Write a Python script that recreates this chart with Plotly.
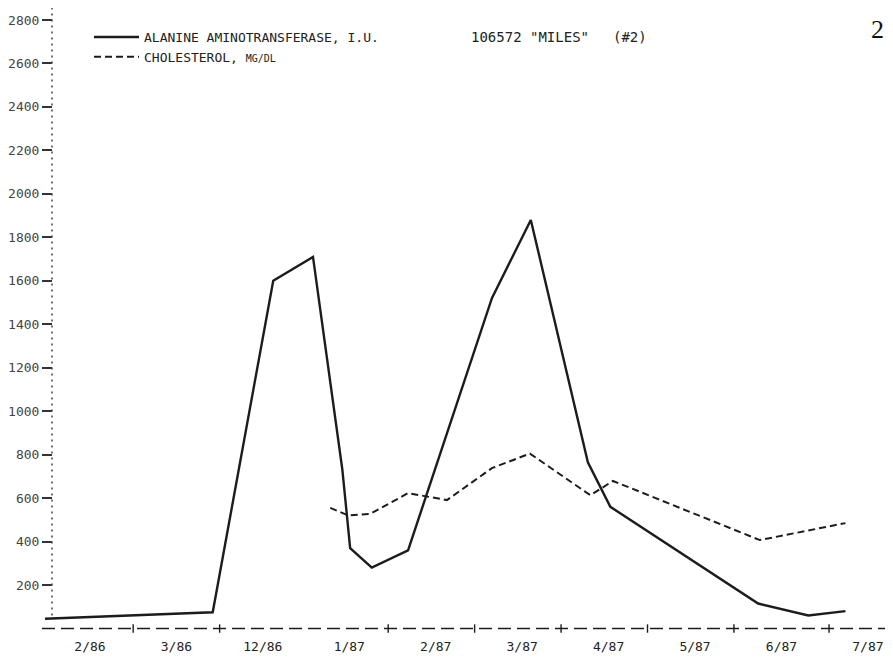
import plotly.graph_objects as go

# ---- data (x in month-slot units: 0 = "2/86" label, 1 = "3/86", ...) ----
month_labels = ["2/86", "3/86", "12/86", "1/87", "2/87", "3/87", "4/87", "5/87", "6/87", "7/87"]
month_pos = [0, 1, 2, 3, 4, 5, 6, 7, 8, 9]
slot_ticks = [0.5, 1.5, 3.45, 4.45, 5.45, 6.45, 7.45, 8.55]

alt_x = [-0.52, 1.42, 2.12, 2.58, 2.92, 3.01, 3.26, 3.68, 4.65, 5.10, 5.76, 6.02, 7.73, 8.31, 8.74]
alt_y = [45, 75, 1600, 1710, 730, 370, 280, 360, 1520, 1880, 765, 560, 115, 60, 80]

chol_x = [2.78, 2.99, 3.24, 3.68, 4.13, 4.65, 5.09, 5.79, 6.05, 7.75, 8.74]
chol_y = [555, 520, 527, 623, 591, 738, 805, 613, 679, 407, 485]

y_ticks = [200, 400, 600, 800, 1000, 1200, 1400, 1600, 1800, 2000, 2200, 2400, 2600, 2800]

alt_name = "ALANINE AMINOTRANSFERASE, I.U."
chol_name = "CHOLESTEROL, <span style='font-size:10px'>MG/DL</span>"
header_id = "106572"
header_name = "\"MILES\""
header_no = "(#2)"
page_no = "2"

INK = "#1c1c1c"
MONO = "DejaVu Sans Mono"

fig = go.Figure()
fig.add_trace(go.Scatter(x=alt_x, y=alt_y, mode="lines", name=alt_name,
                         line=dict(color=INK, width=2.4)))
fig.add_trace(go.Scatter(x=chol_x, y=chol_y, mode="lines", name=chol_name,
                         line=dict(color=INK, width=2.0, dash="7px,4px")))
# tick marks on the dashed baseline
fig.add_trace(go.Scatter(x=slot_ticks, y=[0] * len(slot_ticks), mode="markers",
                         showlegend=False, hoverinfo="skip",
                         marker=dict(symbol="line-ns", size=6,
                                     line=dict(color=INK, width=1.4))))

# the page body adds an 8px offset; the figure is sized to fit the window
OFF = 8
W, H = 893 - OFF, 662 - OFF
L, R, T, B = 42 - OFF, 0, 0, 25
PW, PH = W - L - R, H - T - B
axis_px = 52 - OFF


def px_x(x):  # reference-pixel x -> paper fraction
    return (x - OFF - L) / PW


def px_y(y):  # reference-pixel y -> paper fraction
    return 1 - (y - OFF - T) / PH


fig.update_layout(
    width=W, height=H,
    margin=dict(l=L, r=R, t=T, b=B, autoexpand=False),
    paper_bgcolor="white", plot_bgcolor="white",
    font=dict(family=MONO, color="#222", size=13),
    showlegend=True,
    legend=dict(xref="paper", yref="paper", x=px_x(89), y=px_y(22),
                xanchor="left", yanchor="top", bgcolor="rgba(0,0,0,0)",
                itemwidth=45, font=dict(family=MONO, size=13, color="#222"),
                tracegroupgap=0),
    xaxis=dict(range=[-0.555, 9.29], tickmode="array", tickvals=month_pos,
               ticktext=month_labels, ticks="", showgrid=False, zeroline=False,
               showline=False, automargin=False,
               tickfont=dict(family=MONO, size=13, color="#222")),
    yaxis=dict(range=[-39, 2855], tickmode="array", tickvals=y_ticks,
               ticks="outside", ticklen=10, tickwidth=1.6, tickcolor="#333",
               showgrid=False, zeroline=False, showline=False, automargin=False,
               anchor="free", position=(axis_px - L) / PW,
               tickfont=dict(family=MONO, size=13, color="#444")),
)

# dotted vertical axis line and dashed baseline
fig.add_shape(type="line", xref="paper", yref="y",
              x0=(axis_px - L) / PW, x1=(axis_px - L) / PW,
              y0=60, y1=2855, line=dict(color="#444", width=1.5, dash="2px,4px"))
fig.add_shape(type="line", xref="paper", yref="y", x0=0, x1=1, y0=0, y1=0,
              line=dict(color=INK, width=1.5, dash="13px,6px"))

# header texts
hy = px_y(37)
fig.add_annotation(xref="paper", yref="paper", x=px_x(469), y=hy,
                   text=header_id, showarrow=False, xanchor="left", yanchor="middle",
                   font=dict(family=MONO, size=14, color="#222"))
fig.add_annotation(xref="paper", yref="paper", x=px_x(528), y=hy,
                   text=header_name, showarrow=False, xanchor="left", yanchor="middle",
                   font=dict(family=MONO, size=14, color="#222"))
fig.add_annotation(xref="paper", yref="paper", x=px_x(611), y=hy,
                   text=header_no, showarrow=False, xanchor="left", yanchor="middle",
                   font=dict(family=MONO, size=14, color="#222"))
fig.add_annotation(xref="paper", yref="paper", x=px_x(877), y=px_y(30),
                   text=page_no, showarrow=False, xanchor="center", yanchor="middle",
                   font=dict(family="Liberation Serif", size=26, color="#111"))

fig.write_html("out.html")
